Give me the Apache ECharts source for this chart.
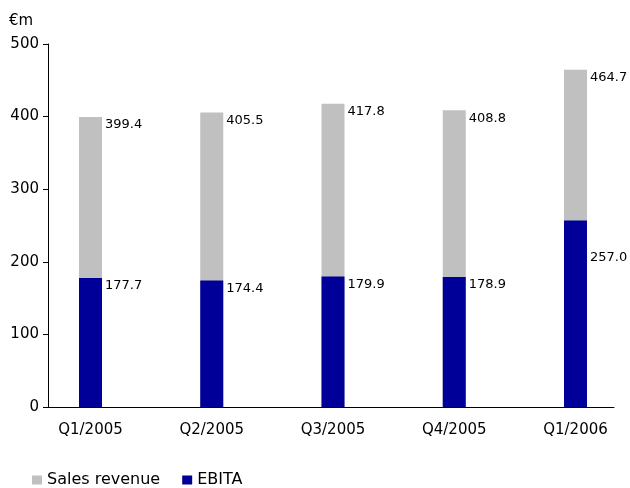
<!DOCTYPE html>
<html>
<head>
<meta charset="utf-8">
<script src="https://cdn.jsdelivr.net/npm/echarts@6/dist/echarts.min.js"></script>
<style>html,body{margin:0;padding:0;background:#fff}#c{width:630px;height:488px}</style>
</head>
<body>
<div id="c"></div>
<script>
const categories = ['Q1/2005', 'Q2/2005', 'Q3/2005', 'Q4/2005', 'Q1/2006'];
const salesRevenue = [399.4, 405.5, 417.8, 408.8, 464.7];
const ebita = [177.7, 174.4, 179.9, 178.9, 257.0];
const yTicks = [0, 100, 200, 300, 400, 500];
const unitLabel = '€m';

const FONT = 'DejaVu Sans';
const chart = echarts.init(document.getElementById('c'), null, {renderer: 'canvas'});

function labelCfg(dy) {
  return {
    show: true,
    position: [26, dy],
    align: 'left',
    verticalAlign: 'middle',
    fontFamily: FONT,
    fontSize: 13,
    color: '#000',
    formatter: p => p.value.toFixed(1)
  };
}

const ebitaData = ebita.map((v, i) => i === 4 ? {value: v, label: {position: [26, 37]}} : v);

chart.setOption({
  animation: false,
  backgroundColor: '#fff',
  textStyle: {fontFamily: FONT},
  title: {
    text: unitLabel, left: 4, top: 9,
    textStyle: {fontFamily: FONT, fontSize: 15, fontWeight: 'normal', color: '#000'}
  },
  legend: {
    left: 32, top: 472, padding: 0, itemWidth: 10, itemHeight: 9, itemGap: 22, icon: 'rect',
    textStyle: {fontFamily: FONT, fontSize: 16, color: '#000'},
    data: ['Sales revenue', 'EBITA']
  },
  grid: [
    {left: 48, right: 16, top: 44, bottom: 81},
    {left: 90.5, right: 54.5, top: 44, bottom: 81}
  ],
  xAxis: [
    {gridIndex: 0, type: 'value', min: 0, max: 1, axisLine: {show: true, lineStyle: {color: '#000', width: 1}},
     axisTick: {show: false}, axisLabel: {show: false}, splitLine: {show: false}},
    {gridIndex: 1, type: 'category', data: categories, boundaryGap: false,
     axisLine: {show: false}, axisTick: {show: false}, splitLine: {show: false},
     axisLabel: {fontFamily: FONT, fontSize: 15, color: '#000', margin: 16}}
  ],
  yAxis: [
    {gridIndex: 0, type: 'value', min: yTicks[0], max: yTicks[yTicks.length - 1], interval: 100,
     axisLine: {show: true, lineStyle: {color: '#000', width: 1}},
     axisTick: {show: true, length: 5, lineStyle: {color: '#000'}},
     splitLine: {show: false},
     axisLabel: {fontFamily: FONT, fontSize: 15, color: '#000', margin: 9}},
    {gridIndex: 1, type: 'value', min: yTicks[0], max: yTicks[yTicks.length - 1], show: false}
  ],
  series: [
    {name: 'Sales revenue', type: 'bar', xAxisIndex: 1, yAxisIndex: 1, data: salesRevenue,
     barWidth: 23, barGap: '-100%', itemStyle: {color: '#C0C0C0'}, label: labelCfg(8)},
    {name: 'EBITA', type: 'bar', xAxisIndex: 1, yAxisIndex: 1, data: ebitaData,
     barWidth: 23, barGap: '-100%', itemStyle: {color: '#000099'}, label: labelCfg(8)}
  ]
});
</script>
</body>
</html>
